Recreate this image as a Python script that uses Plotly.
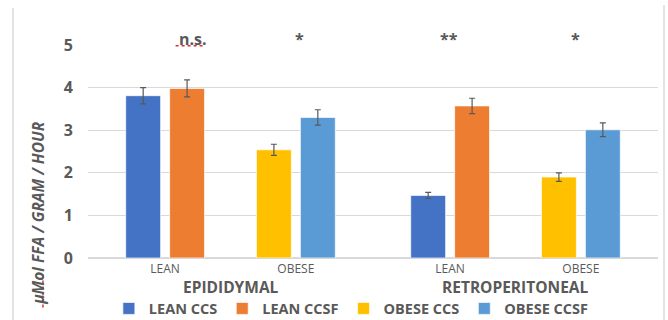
import plotly.graph_objects as go

# Tissues (one panel each) and the body-type categories within them
tissues = ["EPIDIDYMAL", "RETROPERITONEAL"]
groups = ["LEAN", "OBESE"]

# Series: rate per tissue [epididymal, retroperitoneal] with SEM
lean_ccs = [3.81, 1.47]
lean_ccs_err = [0.19, 0.07]
lean_ccsf = [3.98, 3.57]
lean_ccsf_err = [0.20, 0.18]
obese_ccs = [2.54, 1.90]
obese_ccs_err = [0.13, 0.10]
obese_ccsf = [3.30, 3.01]
obese_ccsf_err = [0.18, 0.16]

# Significance marks: (tissue index, category position, label)
sig_tissue = [0, 0, 1, 1]
sig_pos = [0.21, 1.03, -0.01, 0.96]
sig_text = ["n.s.", "*", "**", "*"]

y_ticks = [0, 1, 2, 3, 4, 5]

GREY = "#595959"
GRID = "#d9d9d9"
FONT = "Open Sans"

series = [
    ("LEAN CCS", "LEAN", "ccs", lean_ccs, lean_ccs_err, "#4472C4"),
    ("LEAN CCSF", "LEAN", "ccsf", lean_ccsf, lean_ccsf_err, "#ED7D31"),
    ("OBESE CCS", "OBESE", "ccs", obese_ccs, obese_ccs_err, "#FFC000"),
    ("OBESE CCSF", "OBESE", "ccsf", obese_ccsf, obese_ccsf_err, "#5B9BD5"),
]

fig = go.Figure()
for name, grp, og, vals, errs, color in series:
    for ti in range(len(tissues)):
        fig.add_trace(go.Bar(
            name=name,
            x=[grp],
            y=[vals[ti]],
            error_y=dict(type="data", array=[errs[ti]], color=GREY,
                         thickness=1.2, width=3),
            offsetgroup=og,
            legendgroup=name,
            showlegend=(ti == 0),
            marker=dict(color=color, line=dict(color="rgba(255,255,255,0.7)", width=1)),
            xaxis="x" if ti == 0 else "x2",
            yaxis="y",
        ))

annotations = []
for ti, pos, txt in zip(sig_tissue, sig_pos, sig_text):
    annotations.append(dict(
        x=pos, y=1.03, xref="x" if ti == 0 else "x2", yref="paper",
        xanchor="center", yanchor="middle",
        text=txt, showarrow=False,
        font=dict(family=FONT, size=16, color=GREY, weight="bold"),
    ))

# tissue titles under each panel's category labels
for ti, tissue in enumerate(tissues):
    annotations.append(dict(
        x=0.5, y=-0.136, xref="x domain" if ti == 0 else "x2 domain", yref="paper",
        xanchor="center", yanchor="middle", borderpad=0,
        text=tissue, showarrow=False,
        font=dict(family=FONT, size=15.5, color=GREY, weight="bold"),
    ))

# rotated y-axis title
annotations.append(dict(
    x=-0.0877, y=0.212, xref="paper", yref="paper",
    xanchor="center", yanchor="middle",
    text="µMol FFA / GRAM / HOUR", textangle=-90, showarrow=False,
    font=dict(family=FONT, size=15.5, color=GREY, weight="bold", style="italic"),
))

xaxis_common = dict(
    type="category",
    categoryorder="array",
    categoryarray=groups,
    range=[-0.59, 1.59],
    showgrid=False,
    showline=True,
    linecolor=GRID,
    linewidth=1,
    ticks="",
    automargin=False,
    tickfont=dict(family=FONT, size=12, color=GREY),
    anchor="y",
)

fig.update_layout(
    width=668, height=320,
    margin=dict(l=88, r=10, t=45, b=62),
    paper_bgcolor="white",
    plot_bgcolor="white",
    barmode="group",
    bargap=0.328,
    bargroupgap=0.205,
    xaxis=dict(domain=[0, 0.5], **xaxis_common),
    xaxis2=dict(domain=[0.5, 1], **xaxis_common),
    yaxis=dict(
        range=[0, 5],
        tickvals=y_ticks,
        showgrid=True,
        gridcolor=GRID,
        gridwidth=1,
        zeroline=True,
        zerolinecolor=GRID,
        ticks="",
        automargin=False,
        ticklabelstandoff=14,
        tickfont=dict(family=FONT, size=16, color=GREY, weight="bold"),
    ),
    legend=dict(
        orientation="h",
        xref="container", yref="container",
        x=0.526, xanchor="center",
        y=0.036, yanchor="middle",
        font=dict(family=FONT, size=14.5, color=GREY, weight="bold"),
        traceorder="normal",
        itemwidth=30,
    ),
    annotations=annotations,
    shapes=[
        # outer frame edges
        dict(type="line", xref="paper", yref="paper",
             x0=-0.1316, x1=-0.1316, y0=1.1735, y1=-0.30,
             line=dict(color="#e3e3e3", width=2)),
        dict(type="line", xref="paper", yref="paper",
             x0=1.0105, x1=1.0105, y0=1.1875, y1=-0.30,
             line=dict(color="#e3e3e3", width=2)),
        # spell-check underlines
        dict(type="line", xref="x", yref="y",
             x0=0.08, x1=0.29, y0=4.98, y1=4.98,
             line=dict(color="#e03030", width=1.5, dash="dot")),
        dict(type="line", xref="paper", yref="paper",
             x0=-0.0790, x1=-0.0790, y0=-0.078, y1=-0.233,
             line=dict(color="#e03030", width=1.5, dash="dot")),
    ],
)

fig.write_html("out.html")
